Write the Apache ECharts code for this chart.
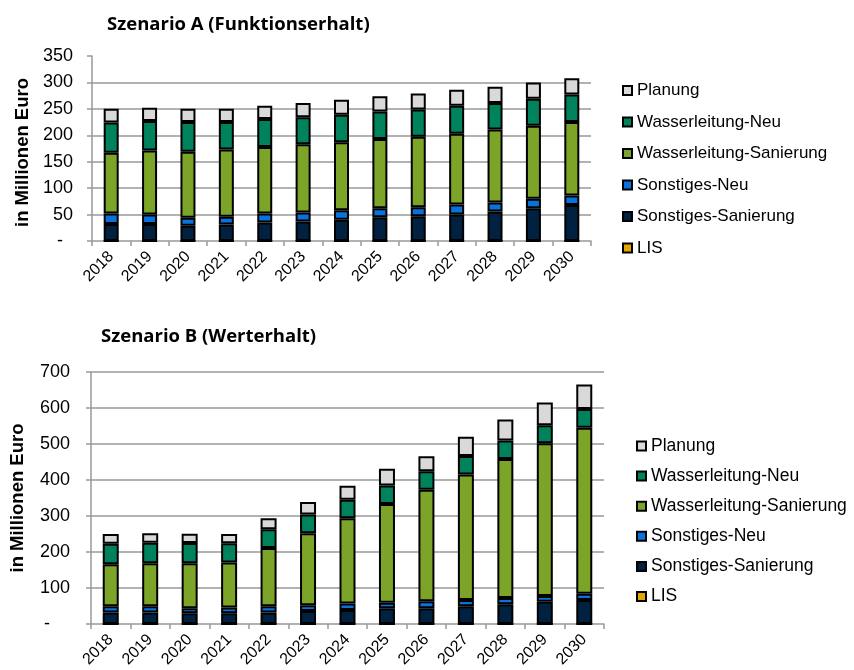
<!DOCTYPE html>
<html>
<head>
<meta charset="utf-8">
<script src="https://cdn.jsdelivr.net/npm/echarts@6/dist/echarts.min.js"></script>
<style>
  html, body { margin: 0; padding: 0; background: #fff; }
  #main { width: 854px; height: 670px; }
</style>
</head>
<body>
<div id="main"></div>
<script>
// Jahre
const years = ['2018', '2019', '2020', '2021', '2022', '2023', '2024', '2025', '2026', '2027', '2028', '2029', '2030']

// Szenario A (Funktionserhalt)
const aLIS = [0, 0, 0, 0, 0, 0, 0, 0, 0, 0, 0, 0, 0]
const aSonstSan = [32, 32, 29, 31, 35, 37, 40, 45, 47, 50, 56, 62, 68]
const aSonstNeu = [20, 18, 15, 15, 17, 17, 18, 17, 17, 19, 17, 18, 18]
const aWasserSan = [115, 121, 125, 127, 126, 129, 129, 131, 133, 134, 138, 138, 139]
const aWasserNeu = [57, 56, 56, 52, 53, 51, 52, 52, 52, 53, 50, 51, 52]
const aPlanung = [26, 25, 25, 25, 25, 27, 28, 29, 30, 30, 31, 31, 31]

// Szenario B (Werterhalt)
const bLIS = [0, 0, 0, 0, 0, 0, 0, 0, 0, 0, 0, 0, 0]
const bSonstSan = [32, 32, 30, 30, 32, 36, 39, 44, 44, 49, 55, 62, 67]
const bSonstNeu = [17, 17, 14, 16, 17, 16, 18, 15, 19, 18, 17, 16, 17]
const bWasserSan = [117, 120, 125, 125, 162, 200, 237, 274, 310, 348, 386, 424, 461]
const bWasserNeu = [57, 57, 56, 53, 52, 52, 51, 52, 51, 52, 52, 50, 52]
const bPlanung = [27, 26, 26, 26, 31, 35, 39, 46, 42, 53, 58, 63, 68]

const legendNames = ['Planung', 'Wasserleitung-Neu', 'Wasserleitung-Sanierung', 'Sonstiges-Neu', 'Sonstiges-Sanierung', 'LIS']
const colors = {
  'LIS': '#e3a800',
  'Sonstiges-Sanierung': '#00213f',
  'Sonstiges-Neu': '#0a72dc',
  'Wasserleitung-Sanierung': '#7ba428',
  'Wasserleitung-Neu': '#00835c',
  'Planung': '#d9d9d9'
}

const font = 'Liberation Sans, Arial, sans-serif'

function bar(name, data, idx, width) {
  return {
    name: name,
    type: 'bar',
    stack: 'st' + idx,
    xAxisIndex: idx,
    yAxisIndex: idx,
    barWidth: width,
    data: data,
    itemStyle: { color: colors[name], borderColor: '#000', borderWidth: 2 }
  }
}

function xAxis(idx) {
  return {
    type: 'category',
    gridIndex: idx,
    data: years,
    axisLine: { lineStyle: { color: '#999', width: 1.5 } },
    axisTick: { show: true, length: 5, lineStyle: { color: '#999', width: 1.5 } },
    axisLabel: {
      rotate: 45, fontSize: 16, color: '#000', fontFamily: font,
      margin: 13, interval: 0
    }
  }
}

function yAxis(idx, max, interval, dash, margin, gap, pad) {
  return {
    type: 'value',
    gridIndex: idx,
    min: 0,
    max: max,
    interval: interval,
    name: 'in Millionen Euro',
    nameLocation: 'middle',
    nameGap: gap,
    nameTextStyle: { fontSize: 18.5, fontWeight: 'bold', color: '#000', fontFamily: font, padding: pad },
    axisLine: { show: true, lineStyle: { color: '#999', width: 1.5 } },
    axisTick: { show: true, length: 5, lineStyle: { color: '#999', width: 1.5 } },
    splitLine: { show: true, showMinLine: false, showMaxLine: idx === 1, lineStyle: { color: '#999', width: 1.5 } },
    axisLabel: {
      fontSize: 18,
      color: '#000',
      fontFamily: font,
      margin: margin,
      formatter: v => (v === 0 ? dash : String(v))
    }
  }
}

let myChart = echarts.init(document.getElementById('main'))
let option = {
  animation: false,
  backgroundColor: '#fff',
  title: [
    {
      text: 'Szenario A (Funktionserhalt)',
      left: 102, top: 10,
      textStyle: { fontFamily: 'Open Sans, sans-serif', fontWeight: 'bold', fontSize: 18.5, color: '#000' }
    },
    {
      text: 'Szenario B (Werterhalt)',
      left: 96, top: 322,
      textStyle: { fontFamily: 'Open Sans, sans-serif', fontWeight: 'bold', fontSize: 18.5, color: '#000' }
    }
  ],
  legend: [
    {
      data: legendNames,
      orient: 'vertical',
      left: 622, top: 82, padding: 0,
      itemWidth: 9, itemHeight: 9, itemGap: 14.5,
      icon: 'rect',
      textStyle: { fontSize: 17, color: '#000', fontFamily: font }
    },
    {
      data: legendNames,
      orient: 'vertical',
      left: 636, top: 437, padding: 0,
      itemWidth: 9, itemHeight: 9, itemGap: 12.1,
      icon: 'rect',
      textStyle: { fontSize: 17.5, color: '#000', fontFamily: font }
    }
  ],
  grid: [
    { left: 92, top: 56, width: 499, height: 185 },
    { left: 91, top: 372, width: 513, height: 252 }
  ],
  xAxis: [xAxis(0), xAxis(1)],
  yAxis: [
    yAxis(0, 350, 50, '-  ', 19, 56, [0, 8, 0, 0]),
    yAxis(1, 700, 100, '-    ', 21, 64, 0)
  ],
  series: [
    bar('LIS', aLIS, 0, 15),
    bar('Sonstiges-Sanierung', aSonstSan, 0, 15),
    bar('Sonstiges-Neu', aSonstNeu, 0, 15),
    bar('Wasserleitung-Sanierung', aWasserSan, 0, 15),
    bar('Wasserleitung-Neu', aWasserNeu, 0, 15),
    bar('Planung', aPlanung, 0, 15),
    bar('LIS', bLIS, 1, 16),
    bar('Sonstiges-Sanierung', bSonstSan, 1, 16),
    bar('Sonstiges-Neu', bSonstNeu, 1, 16),
    bar('Wasserleitung-Sanierung', bWasserSan, 1, 16),
    bar('Wasserleitung-Neu', bWasserNeu, 1, 16),
    bar('Planung', bPlanung, 1, 16)
  ]
}
myChart.setOption(option)
</script>
</body>
</html>
